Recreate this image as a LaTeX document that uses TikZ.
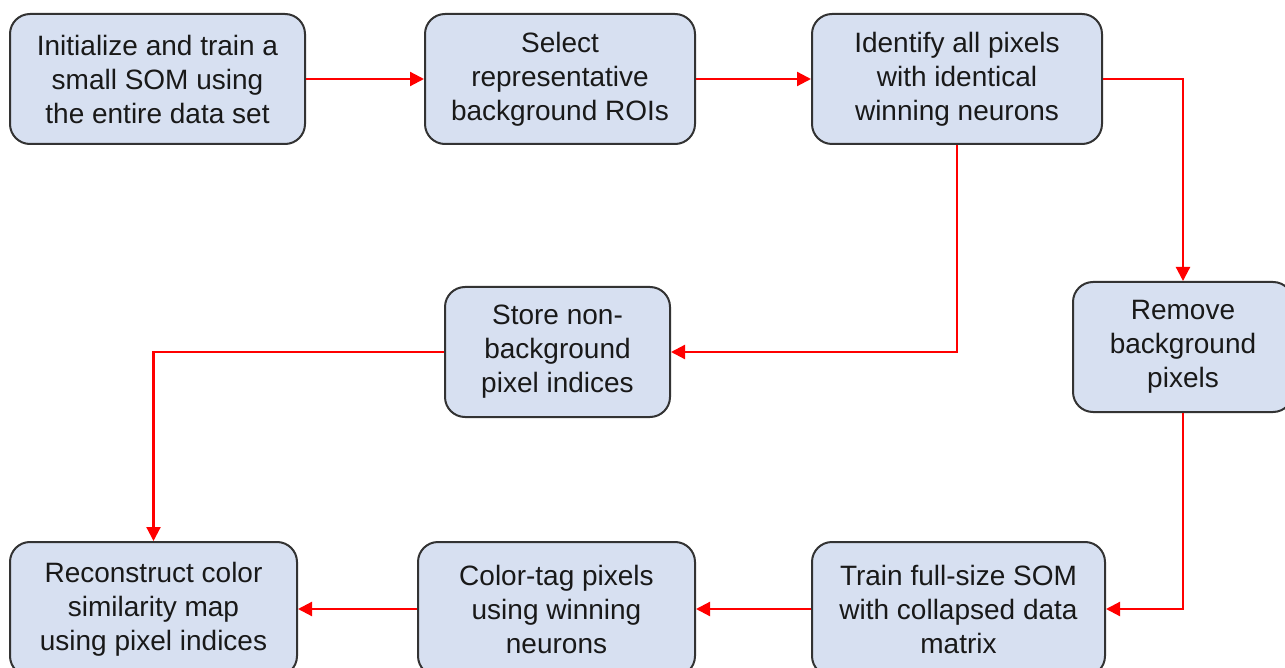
\documentclass[tikz,border=0pt]{standalone}
\usepackage{fontspec}
\setmainfont{Liberation Sans}
\usetikzlibrary{arrows.meta,positioning}
\definecolor{boxfill}{HTML}{D7E0F1}
\definecolor{boxline}{HTML}{333333}
\tikzset{
    process/.style = {
        draw = boxline,
        fill = boxfill,
        line width = 1pt,
        rounded corners = 10pt,
        align = center,
        inner sep = 0pt,
        text = black!90,
        font = \fontsize{14}{17}\selectfont,
        },
    flow/.style = {
        draw = red,
        line width = 1.1pt,
        -{Triangle[length=7pt,width=7pt]},
        },
}
\begin{document}
\begin{tikzpicture}[x=0.5pt,y=-0.5pt]
    \useasboundingbox (0,0) rectangle (1285,668);
    \node[process, minimum width=147.5pt, minimum height=65pt] (init) at (157.5,79) {Initialize and train a\\small SOM using\\the entire data set};
    \node[process, minimum width=135pt, minimum height=65pt] (select) at (560,79) {Select\\representative\\background ROIs};
    \node[process, minimum width=145pt, minimum height=65pt] (ident) at (957,79) {Identify all pixels\\with identical\\winning neurons};
    \node[process, minimum width=110pt, minimum height=65pt] (remove) at (1183,347) {Remove\\background\\pixels};
    \node[process, minimum width=112.5pt, minimum height=65pt] (store) at (557.5,352) {Store non-\\background\\pixel indices};
    \node[process, minimum width=143.5pt, minimum height=67pt] (recon) at (153.5,609) {Reconstruct color\\similarity map\\using pixel indices};
    \node[process, minimum width=138.5pt, minimum height=67pt] (tag) at (556.5,609) {Color-tag pixels\\using winning\\neurons};
    \node[process, minimum width=146.5pt, minimum height=67pt] (train) at (958.5,609) {Train full-size SOM\\with collapsed data\\matrix};

    \draw[flow] (init) -- (select);
    \draw[flow] (select) -- (ident);
    \draw[flow] (ident.east) -| (remove.north);
    \draw[flow] (ident.south) |- (store.east);
    \draw[flow] (remove.south) |- (train.east);
    \draw[flow] (store.west) -| (recon.north);
    \draw[flow] (train) -- (tag);
    \draw[flow] (tag) -- (recon);
\end{tikzpicture}
\end{document}
